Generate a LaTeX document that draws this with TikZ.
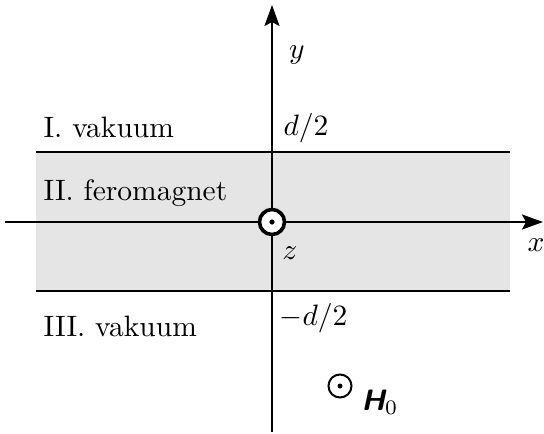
\documentclass[tikz,border=0pt]{standalone}
\usetikzlibrary{arrows.meta}
\usepackage{amsmath}
\begin{document}
\begin{tikzpicture}[x=1pt,y=-1pt,
  lbl/.style={inner sep=0pt,scale=2.95,transform shape},
  axis/.style={line width=2.4pt,-{Stealth[length=21pt,width=15pt,inset=4pt]}},
  bound/.style={line width=1.4pt}]
\useasboundingbox (0,0) rectangle (544,434);
\fill[gray!20] (36,152) rectangle (510,291);
\coordinate (bl1) at (36,152); \coordinate (br1) at (510,152);
\coordinate (bl2) at (36,291); \coordinate (br2) at (510,291);
\draw[bound] (bl1) -- (br1);
\draw[bound] (bl2) -- (br2);
\coordinate (xs) at (5,222); \coordinate (xe) at (543,222);
\coordinate (ys) at (272,432); \coordinate (ye) at (272,5);
\draw[axis] (xs) -- (xe);
\draw[axis] (ys) -- (ye);
\node[circle,draw,fill=white,line width=3.6pt,minimum size=25pt,inner sep=0pt] (o) at (272,222) {};
\fill (o.center) circle (2.6pt);
\node[circle,draw,line width=2pt,minimum size=23pt,inner sep=0pt] (h) at (340,386) {};
\fill (h.center) circle (2.5pt);
\node[lbl] (ly) at (297,55) {$y$};
\node[lbl] (lx) at (536,245) {$x$};
\node[lbl] (lz) at (290,253) {$z$};
\node[lbl,anchor=base west] (ld) at (283,135) {$d/2$};
\node[lbl,anchor=base west] (lmd) at (279,325) {$-d/2$};
\node[lbl,anchor=base west] (l1) at (43,137) {I. vakuum};
\node[lbl,anchor=base west] (l2) at (43,200) {II. feromagnet};
\node[lbl,anchor=base west] (l3) at (43,336) {III. vakuum};
\node[lbl,anchor=base west] (lh) at (361,410) {$\text{\sffamily\bfseries\itshape H}_0$};
\end{tikzpicture}
\end{document}
